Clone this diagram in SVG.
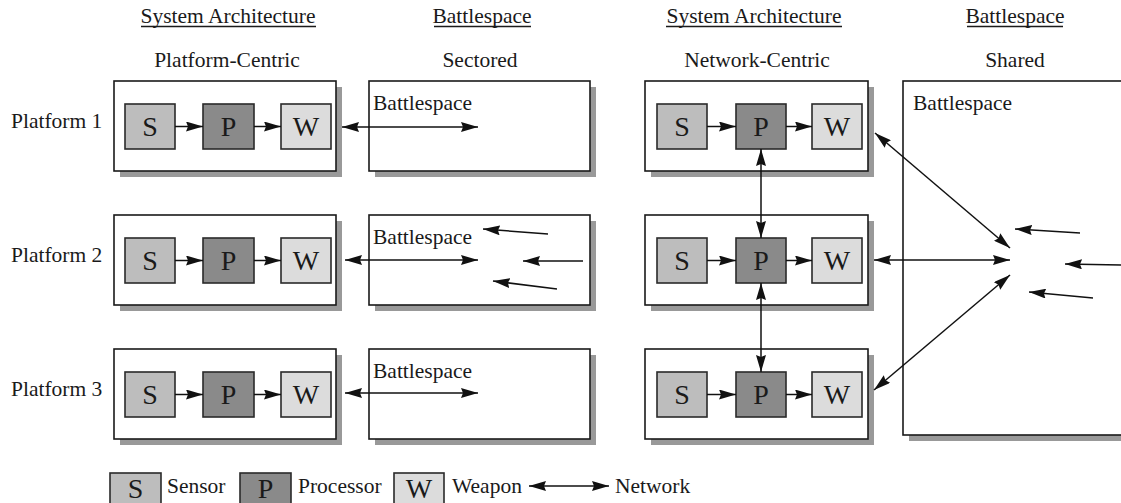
<svg xmlns="http://www.w3.org/2000/svg" width="1121" height="503" viewBox="0 0 1121 503">
<style>
text{font-family:"Liberation Serif","Times New Roman",serif;font-size:21.5px;fill:#1a1a1a}
.c{text-anchor:middle}
.big{font-size:28px;text-anchor:middle}
.frame{fill:#fff;stroke:#1a1a1a;stroke-width:1.6}
.shadow{fill:#999}
.s,.p,.w{stroke:#2a2a2a;stroke-width:1.6}
.s{fill:#bdbdbd}
.p{fill:#8a8a8a}
.w{fill:#dcdcdc}
.ln{stroke:#111;stroke-width:1.5;fill:none}
.one{marker-end:url(#ah)}
.two{marker-start:url(#ah);marker-end:url(#ah)}
.ul{stroke:#1a1a1a;stroke-width:1.3}
</style>
<defs>
<marker id="ah" viewBox="0 0 17 10" refX="17" refY="5" markerWidth="17" markerHeight="10" markerUnits="userSpaceOnUse" orient="auto-start-reverse">
<path d="M0,0 L17,5 L0,10 L2,5 z" fill="#111"/>
</marker>
<!-- platform with sensor, processor and weapon chained in a row (left column) -->
<g id="platL">
<rect class="shadow" x="120" y="87" width="222" height="90"/>
<rect class="frame" x="114" y="81" width="222" height="90"/>
<rect class="s" x="125" y="104" width="50" height="45"/>
<rect class="p" x="203" y="104" width="51" height="45"/>
<rect class="w" x="281" y="104" width="50" height="45"/>
<text class="big" x="150" y="136">S</text>
<text class="big" x="228.5" y="136">P</text>
<text class="big" x="306" y="136">W</text>
<line class="ln one" x1="175" y1="126.5" x2="203" y2="126.5"/>
<line class="ln one" x1="254" y1="126.5" x2="281" y2="126.5"/>
</g>
<!-- same platform, right column -->
<g id="platR">
<rect class="shadow" x="651" y="87" width="223" height="90"/>
<rect class="frame" x="645" y="81" width="223" height="90"/>
<rect class="s" x="657" y="104" width="50" height="45"/>
<rect class="p" x="736" y="104" width="50" height="45"/>
<rect class="w" x="812" y="104" width="50" height="45"/>
<text class="big" x="682" y="136">S</text>
<text class="big" x="761" y="136">P</text>
<text class="big" x="837" y="136">W</text>
<line class="ln one" x1="707" y1="126.5" x2="736" y2="126.5"/>
<line class="ln one" x1="786" y1="126.5" x2="812" y2="126.5"/>
</g>
<!-- sectored battlespace panel -->
<g id="sector">
<rect class="shadow" x="375" y="87" width="221" height="90"/>
<rect class="frame" x="369" y="81" width="221" height="90"/>
<text x="373" y="110">Battlespace</text>
</g>
</defs>

<!-- column headings -->
<g id="headings">
<text class="c" x="228" y="23">System Architecture</text>
<line class="ul" x1="141" y1="26.5" x2="316" y2="26.5"/>
<text class="c" x="482" y="23">Battlespace</text>
<line class="ul" x1="434" y1="26.5" x2="531" y2="26.5"/>
<text class="c" x="754" y="23">System Architecture</text>
<line class="ul" x1="666" y1="26.5" x2="842" y2="26.5"/>
<text class="c" x="1015" y="23">Battlespace</text>
<line class="ul" x1="967" y1="26.5" x2="1063" y2="26.5"/>
<text class="c" x="227" y="67">Platform-Centric</text>
<text class="c" x="480" y="67">Sectored</text>
<text class="c" x="757" y="67">Network-Centric</text>
<text class="c" x="1015" y="67">Shared</text>
</g>

<!-- row labels -->
<g id="row-labels">
<text x="11" y="128">Platform 1</text>
<text x="11" y="262">Platform 2</text>
<text x="11" y="396">Platform 3</text>
</g>

<!-- platform-centric column -->
<g id="pc-platform-1"><use href="#platL"/></g>
<g id="pc-platform-2"><use href="#platL" transform="translate(0,134)"/></g>
<g id="pc-platform-3"><use href="#platL" transform="translate(0,268)"/></g>

<!-- sectored battlespaces -->
<g id="sector-1"><use href="#sector"/></g>
<g id="sector-2"><use href="#sector" transform="translate(0,134)"/></g>
<g id="sector-3"><use href="#sector" transform="translate(0,268)"/></g>

<!-- network-centric column -->
<g id="nc-platform-1"><use href="#platR"/></g>
<g id="nc-platform-2"><use href="#platR" transform="translate(0,134)"/></g>
<g id="nc-platform-3"><use href="#platR" transform="translate(0,268)"/></g>

<!-- shared battlespace -->
<g id="shared">
<rect class="shadow" x="909" y="87" width="240" height="354"/>
<rect class="frame" x="903" y="81" width="240" height="354"/>
<text x="913" y="110">Battlespace</text>
</g>

<!-- connectors -->
<g id="connectors">
<!-- platform to its own sector -->
<line class="ln two" x1="342" y1="127" x2="478" y2="127"/>
<line class="ln two" x1="345" y1="260" x2="478" y2="260"/>
<line class="ln two" x1="345" y1="393" x2="478" y2="393"/>
<!-- threats inside sector 2 -->
<line class="ln one" x1="548" y1="234" x2="483" y2="229"/>
<line class="ln one" x1="583" y1="261" x2="523" y2="261"/>
<line class="ln one" x1="557" y1="289" x2="493" y2="281"/>
<!-- processor links between networked platforms -->
<line class="ln two" x1="761" y1="149" x2="761" y2="238"/>
<line class="ln two" x1="761" y1="283" x2="761" y2="372"/>
<!-- networked platforms to shared battlespace -->
<line class="ln two" x1="875" y1="133" x2="1010" y2="248"/>
<line class="ln two" x1="874" y1="260" x2="1010" y2="260"/>
<line class="ln two" x1="874" y1="390" x2="1010" y2="275"/>
<!-- threats inside shared battlespace -->
<line class="ln one" x1="1080" y1="233" x2="1015" y2="229"/>
<line class="ln one" x1="1125" y1="265" x2="1065" y2="264"/>
<line class="ln one" x1="1093" y1="298" x2="1029" y2="292"/>
</g>

<!-- legend -->
<g id="legend">
<rect class="s" x="110" y="473" width="51" height="42"/>
<text class="big" x="135.5" y="498">S</text>
<text x="167" y="493">Sensor</text>
<rect class="p" x="240" y="473" width="51" height="42"/>
<text class="big" x="265.5" y="498">P</text>
<text x="298" y="493">Processor</text>
<rect class="w" x="394" y="473" width="50" height="42"/>
<text class="big" x="419" y="498">W</text>
<text x="452" y="493">Weapon</text>
<line class="ln two" x1="529" y1="486" x2="609" y2="486"/>
<text x="615" y="493">Network</text>
</g>
</svg>
